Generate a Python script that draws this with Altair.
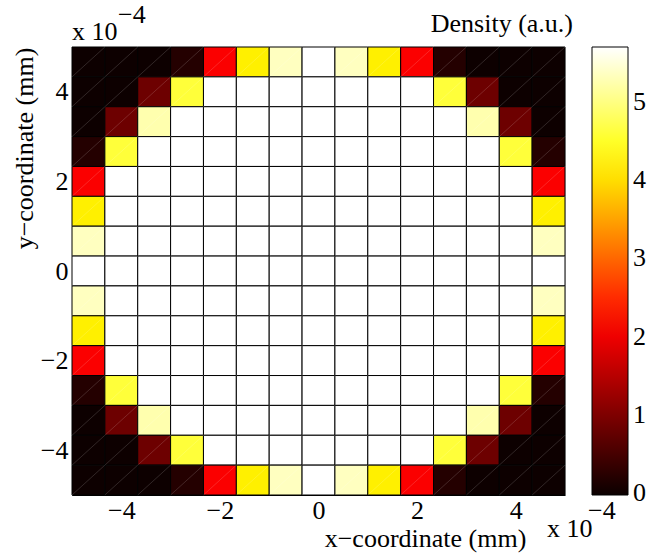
import altair as alt
import pandas as pd

# Cell edges in units of 1e-4 mm
x_edges = [-5.0, -4.3333, -3.6667, -3.0, -2.3333, -1.6667, -1.0, -0.3333,
           0.3333, 1.0, 1.6667, 2.3333, 3.0, 3.6667, 4.3333, 5.0]
y_edges = [-5.0, -4.3333, -3.6667, -3.0, -2.3333, -1.6667, -1.0, -0.3333,
           0.3333, 1.0, 1.6667, 2.3333, 3.0, 3.6667, 4.3333, 5.0]

# Density (a.u.), rows listed from top (y = +5e-4) to bottom (y = -5e-4)
density = [
    [0.0, 0.0, 0.0, 0.2, 2.1, 4.15, 5.35, 5.7, 5.35, 4.15, 2.1, 0.2, 0.0, 0.0, 0.0],
    [0.0, 0.0, 0.85, 4.6, 5.7, 5.7, 5.7, 5.7, 5.7, 5.7, 5.7, 4.6, 0.85, 0.0, 0.0],
    [0.0, 0.85, 5.25, 5.7, 5.7, 5.7, 5.7, 5.7, 5.7, 5.7, 5.7, 5.7, 5.25, 0.85, 0.0],
    [0.2, 4.6, 5.7, 5.7, 5.7, 5.7, 5.7, 5.7, 5.7, 5.7, 5.7, 5.7, 5.7, 4.6, 0.2],
    [2.1, 5.7, 5.7, 5.7, 5.7, 5.7, 5.7, 5.7, 5.7, 5.7, 5.7, 5.7, 5.7, 5.7, 2.1],
    [4.15, 5.7, 5.7, 5.7, 5.7, 5.7, 5.7, 5.7, 5.7, 5.7, 5.7, 5.7, 5.7, 5.7, 4.15],
    [5.35, 5.7, 5.7, 5.7, 5.7, 5.7, 5.7, 5.7, 5.7, 5.7, 5.7, 5.7, 5.7, 5.7, 5.35],
    [5.7, 5.7, 5.7, 5.7, 5.7, 5.7, 5.7, 5.7, 5.7, 5.7, 5.7, 5.7, 5.7, 5.7, 5.7],
    [5.35, 5.7, 5.7, 5.7, 5.7, 5.7, 5.7, 5.7, 5.7, 5.7, 5.7, 5.7, 5.7, 5.7, 5.35],
    [4.15, 5.7, 5.7, 5.7, 5.7, 5.7, 5.7, 5.7, 5.7, 5.7, 5.7, 5.7, 5.7, 5.7, 4.15],
    [2.1, 5.7, 5.7, 5.7, 5.7, 5.7, 5.7, 5.7, 5.7, 5.7, 5.7, 5.7, 5.7, 5.7, 2.1],
    [0.2, 4.6, 5.7, 5.7, 5.7, 5.7, 5.7, 5.7, 5.7, 5.7, 5.7, 5.7, 5.7, 4.6, 0.2],
    [0.0, 0.85, 5.25, 5.7, 5.7, 5.7, 5.7, 5.7, 5.7, 5.7, 5.7, 5.7, 5.25, 0.85, 0.0],
    [0.0, 0.0, 0.85, 4.6, 5.7, 5.7, 5.7, 5.7, 5.7, 5.7, 5.7, 4.6, 0.85, 0.0, 0.0],
    [0.0, 0.0, 0.0, 0.2, 2.1, 4.15, 5.35, 5.7, 5.35, 4.15, 2.1, 0.2, 0.0, 0.0, 0.0],
]

axis_ticks = [-4, -2, 0, 2, 4]
colorbar_ticks = [0, 1, 2, 3, 4, 5]
density_min = -0.02
density_max = 5.7

records = []
n_rows = len(density)
for r, row in enumerate(density):
    for c, v in enumerate(row):
        records.append(dict(
            x0=x_edges[c], x1=x_edges[c + 1],
            y0=y_edges[n_rows - 1 - r], y1=y_edges[n_rows - r],
            d=v,
        ))
df = pd.DataFrame(records)

FONT = "Liberation Serif"
FS = 26

pos_scale = alt.Scale(domain=[-5, 5], nice=False, zero=False)
color_scale = alt.Scale(
    domain=[density_min, 0.375 * density_max, 0.75 * density_max, density_max],
    range=["#0b0000", "#ff0000", "#ffff00", "#ffffff"],
    interpolate="rgb",
)

x_axis = alt.Axis(
    values=axis_ticks, title="x−coordinate (mm)", ticks=False, grid=False,
    labelPadding=2, labelFont=FONT, labelFontSize=FS, labelColor="black",
    titleFont=FONT, titleFontSize=FS, titleFontWeight="normal", titleColor="black",
    titleX=353, titleY=51, titleAlign="center", titleBaseline="alphabetic",
    domainColor="black", domainWidth=1,
)
y_axis = alt.Axis(
    values=axis_ticks, title="y−coordinate (mm)", ticks=False, grid=False,
    labelPadding=4, labelFont=FONT, labelFontSize=FS, labelColor="black",
    titleFont=FONT, titleFontSize=FS, titleFontWeight="normal", titleColor="black",
    titleX=-40, titleY=101, titleAngle=270, titleAlign="center", titleBaseline="alphabetic",
    domainColor="black", domainWidth=1,
)

legend = alt.Legend(
    title=None, values=colorbar_ticks, orient="right", direction="vertical",
    gradientLength=448, gradientThickness=36,
    gradientStrokeColor="black", gradientStrokeWidth=1,
    labelFont=FONT, labelFontSize=FS, labelColor="black", labelOffset=5,
    labelBaseline="middle", offset=27, padding=0, labelOverlap=False,
)

rects = alt.Chart(df).mark_rect(stroke="black", strokeWidth=1).encode(
    x=alt.X("x0:Q", scale=pos_scale, axis=x_axis),
    x2="x1:Q",
    y=alt.Y("y0:Q", scale=pos_scale, axis=y_axis),
    y2="y1:Q",
    color=alt.Color("d:Q", scale=color_scale, legend=legend),
)

diagonals = alt.Chart(df).mark_rule(color="white", strokeWidth=0.6, opacity=0.25).encode(
    x="x0:Q", x2="x1:Q", y="y0:Q", y2="y1:Q",
)


def label(text, x, y, align="left"):
    return alt.Chart(pd.DataFrame({"t": [text]})).mark_text(
        align=align, baseline="alphabetic", font=FONT, fontSize=FS, color="black"
    ).encode(text="t:N", x=alt.value(x), y=alt.value(y))


chart = alt.layer(
    rects,
    diagonals,
    label("Density (a.u.)", 501, -15, "right"),
    label("x 10", 0, -7),
    label("−4", 46, -24),
    label("x 10", 475, 490),
    label("−4", 516, 472),
).properties(
    width=493, height=448,
    autosize=alt.AutoSizeParams(type="none"),
    padding={"left": 72, "top": 47, "right": 82, "bottom": 64},
).configure_view(stroke="black", strokeWidth=1).configure(background="white")

chart.save("out.html", embed_options={"renderer": "svg", "actions": False})
